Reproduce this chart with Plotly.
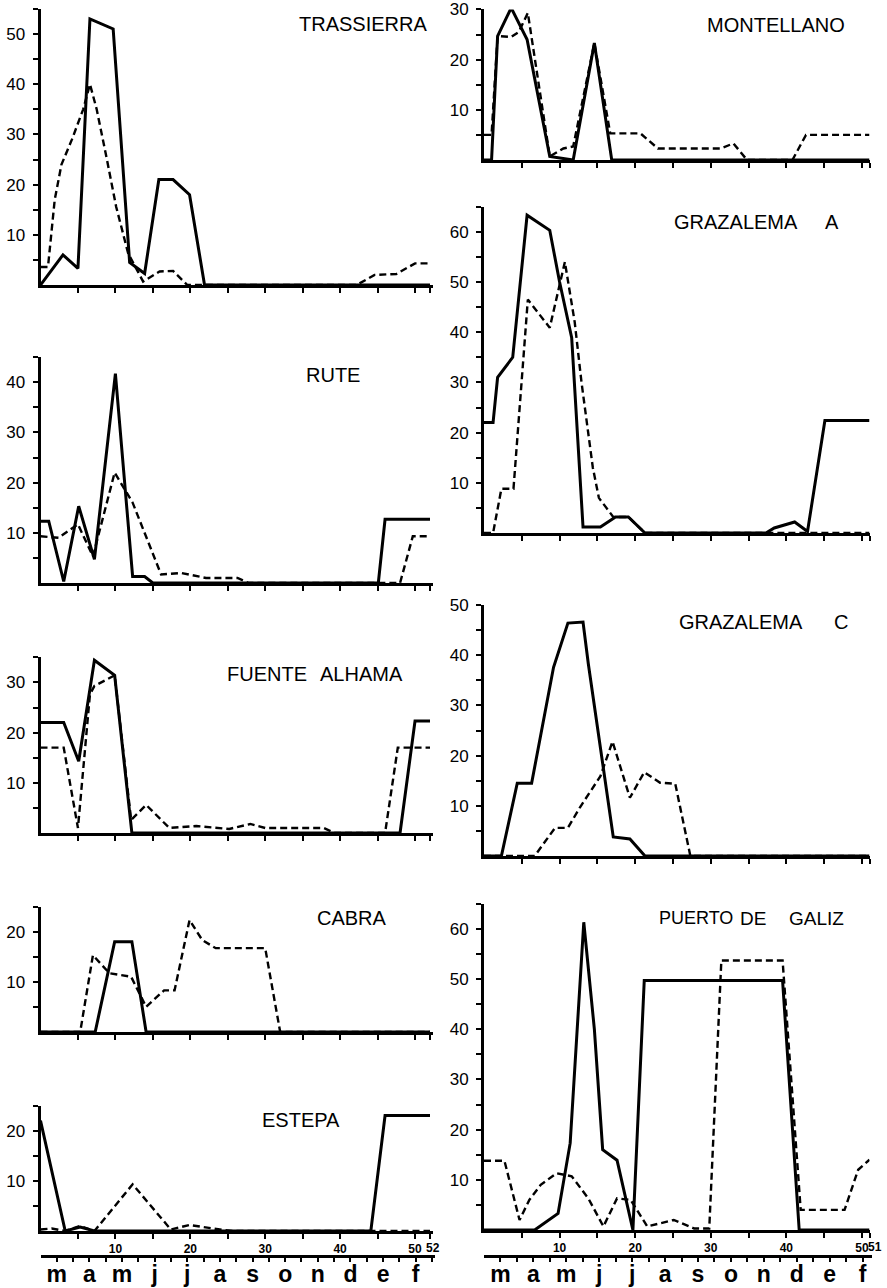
import plotly.graph_objects as go

W, H = 887, 1288

# ---------------- data (week number, value) ----------------
TRAS_W_SOLID = [0, 3, 5, 6.6, 9.7, 11.9, 13.9, 15.8, 17.7, 19.9, 21.9, 52]
TRAS_SOLID = [0, 6, 3.3, 53, 51, 4.5, 2.3, 21, 21, 18, 0, 0]
TRAS_W_DASH = [0, 1, 1.9, 2.8, 4.2, 5.7, 6.6, 7.5, 8.8, 10.1, 11.7, 13.7, 15.9, 17.7, 19.6, 42.2, 44.6, 47.5, 50, 52]
TRAS_DASH = [3.6, 3.6, 17, 24, 29, 35, 40, 35, 25.5, 15.6, 6.3, 0.7, 2.7, 2.8, 0, 0, 2, 2.2, 4.3, 4.3]

RUTE_W_SOLID = [0, 1.1, 3.1, 5.1, 7.2, 10, 12.3, 13.9, 15, 45.1, 46, 52]
RUTE_SOLID = [12.3, 12.3, 0.3, 15.3, 4.7, 41.7, 1.3, 1.3, 0, 0, 12.7, 12.7]
RUTE_W_DASH = [0, 2.4, 5, 7, 9.9, 12.3, 16.1, 18.8, 22.1, 26.3, 27.8, 48, 49.7, 52]
RUTE_DASH = [9.3, 9, 11.7, 5.3, 22, 16, 1.7, 2, 1, 1, 0, 0, 9.3, 9.3]

FA_W_SOLID = [0, 3.1, 5.1, 7.2, 9.9, 12.2, 48, 50, 52]
FA_SOLID = [22, 22, 14.3, 34.4, 31.4, 0, 0, 22.3, 22.3]
FA_W_DASH = [0, 3.1, 5, 6.6, 7.2, 9.9, 12.1, 14.1, 17.2, 20.8, 25.2, 28, 30, 37.8, 39.3, 46, 47.7, 52]
FA_DASH = [17, 17, 1, 27.6, 29.3, 31.4, 2.6, 5.6, 1, 1.4, 0.8, 1.8, 1, 1, 0, 0, 17, 17]

CAB_W_SOLID = [0, 7.3, 9.9, 12.2, 14.1, 52]
CAB_SOLID = [0, 0, 18, 18, 0, 0]
CAB_W_DASH = [0, 5.3, 7, 9.2, 12.1, 14.1, 16.5, 17.9, 19.9, 21.6, 23.4, 30, 32, 52]
CAB_DASH = [0, 0, 15.3, 11.7, 11, 5, 8.3, 8.3, 22.3, 18.3, 16.7, 16.7, 0, 0]

EST_W_SOLID = [0, 3.3, 5.3, 7.2, 44.1, 46, 52]
EST_SOLID = [22, 0, 0.8, 0, 0, 23, 23]
EST_W_DASH = [0, 1.5, 3.3, 5.3, 7.2, 12.3, 17.4, 19.9, 23, 25.6, 52]
EST_DASH = [0.3, 0.5, 0, 1, 0, 9.3, 0.3, 1.2, 0.5, 0, 0]

MON_W_SOLID = [0, 1, 1.8, 3.6, 5.7, 8.7, 11.8, 14.6, 16.9, 51]
MON_SOLID = [0, 0, 24.7, 30.3, 24, 0.7, 0, 23.3, 0, 0]
MON_W_DASH = [0, 1, 1.8, 3.6, 4.6, 5.8, 8.7, 10.5, 11.8, 14.6, 16.7, 20.7, 23, 31.3, 33, 34.8, 40.8, 42.6, 51]
MON_DASH = [5, 5, 24.7, 24.5, 25.5, 29.3, 0.7, 2.3, 2.7, 23.3, 5.3, 5.3, 2.3, 2.3, 3.3, 0, 0, 5, 5]

GA_W_SOLID = [0, 1.2, 1.8, 3.8, 5.7, 8.7, 10, 11.6, 13.1, 15.4, 17.4, 19.1, 21.3, 37.3, 38.4, 41.1, 42.8, 45.1, 51]
GA_SOLID = [22, 22, 31, 35, 63.3, 60.3, 50, 38.9, 1.2, 1.2, 3.2, 3.2, 0, 0, 1, 2.2, 0.3, 22.4, 22.4]
GA_W_DASH = [0, 1.2, 2.3, 3.9, 5.8, 8.7, 10.7, 12, 12.9, 13.6, 14.4, 15.2, 17.1, 19.1, 21.3, 51]
GA_DASH = [0, 0, 8.8, 8.8, 46.5, 40.9, 54, 42, 30, 22, 13, 7, 3.2, 3.2, 0, 0]

GC_W_SOLID = [0, 2.3, 4.4, 6.3, 9.2, 11.1, 13.1, 13.8, 17.1, 19.3, 21.3, 51]
GC_SOLID = [0, 0, 14.5, 14.5, 37.6, 46.4, 46.6, 38.3, 3.8, 3.4, 0, 0]
GC_W_DASH = [0, 6.7, 9.4, 11.1, 12.7, 15.4, 17, 19.3, 21.2, 23.3, 25.3, 27.3, 51]
GC_DASH = [0, 0, 5.6, 5.6, 9.7, 15.9, 22.8, 11.6, 16.7, 14.6, 14.4, 0, 0]

PG_W_SOLID = [0, 6.7, 9.8, 11.4, 13.2, 14.6, 15.7, 17.6, 19.7, 21.2, 39.5, 41.7, 51]
PG_SOLID = [0, 0, 3.3, 17.3, 61.3, 40, 16, 13.9, 0, 49.7, 49.7, 0, 0]
PG_W_DASH = [0, 2.7, 4.7, 6, 7.5, 9.6, 11.6, 13, 13.8, 15.8, 17.6, 19.4, 21.6, 25.1, 27.8, 29.8, 31.4, 39.5, 41.9, 47.7, 49.5, 51]
PG_DASH = [13.8, 13.8, 2, 6, 9, 11.3, 10.7, 8, 6.3, 0.7, 6.3, 6, 0.7, 2, 0.3, 0.3, 53.7, 53.7, 4, 4, 12, 14]

MONTHS = ["m", "a", "m", "j", "j", "a", "s", "o", "n", "d", "e", "f"]

# panel: (title words (text, left px, font size), title centre px, column, bottom px, ymax, series..., bottom row?)
PANELS = [
    ([("TRASSIERRA", 297, 20)], 24, "L", 285, 55, TRAS_W_SOLID, TRAS_SOLID, TRAS_W_DASH, TRAS_DASH, False),
    ([("RUTE", 304, 20)], 375, "L", 583, 45, RUTE_W_SOLID, RUTE_SOLID, RUTE_W_DASH, RUTE_DASH, False),
    ([("FUENTE", 225, 20), ("ALHAMA", 318, 20)], 674, "L", 833, 35, FA_W_SOLID, FA_SOLID, FA_W_DASH, FA_DASH, False),
    ([("CABRA", 315, 20)], 918, "L", 1032, 25, CAB_W_SOLID, CAB_SOLID, CAB_W_DASH, CAB_DASH, False),
    ([("ESTEPA", 260, 20)], 1120, "L", 1231, 25, EST_W_SOLID, EST_SOLID, EST_W_DASH, EST_DASH, True),
    ([("MONTELLANO", 705, 20)], 25, "R", 160, 30, MON_W_SOLID, MON_SOLID, MON_W_DASH, MON_DASH, False),
    ([("GRAZALEMA", 672, 20), ("A", 823, 20)], 222, "R", 533, 65, GA_W_SOLID, GA_SOLID, GA_W_DASH, GA_DASH, False),
    ([("GRAZALEMA", 677, 20), ("C", 832, 20)], 622, "R", 856, 50, GC_W_SOLID, GC_SOLID, GC_W_DASH, GC_DASH, False),
    ([("PUERTO", 657, 18), ("DE", 738, 19), ("GALIZ", 787, 19)], 918, "R", 1230, 65, PG_W_SOLID, PG_SOLID, PG_W_DASH, PG_DASH, True),
]

COLS = {"L": (40.5, 433.0, 52.4, 52), "R": (484.0, 869.5, 51.0, 51)}
PX_PER_UNIT = 5.02

FONT = "Liberation Sans, Arial, sans-serif"


def fx(px):
    return px / W


def fy(py):
    return 1 - py / H


fig = go.Figure()
layout = {}
annotations = []

for i, (words, ty, col, bottom, ymax, xs, ys, xd, yd, is_bottom) in enumerate(PANELS, start=1):
    x0, x1, xr, xend = COLS[col]
    top = bottom - ymax * PX_PER_UNIT
    xa = "x" if i == 1 else f"x{i}"
    ya = "y" if i == 1 else f"y{i}"
    fig.add_trace(go.Scatter(x=xd, y=yd, mode="lines", xaxis=xa, yaxis=ya,
                             line=dict(color="black", width=2.4, dash="7px,4px"),
                             showlegend=False, hoverinfo="skip"))
    fig.add_trace(go.Scatter(x=xs, y=ys, mode="lines", xaxis=xa, yaxis=ya,
                             line=dict(color="black", width=3),
                             showlegend=False, hoverinfo="skip"))
    xt = list(range(5, 51, 5)) + [xend]
    if is_bottom:
        xtt = [str(v) if v % 10 == 0 else "" for v in xt]
        annotations.append(dict(text=f"<b>{xend}</b>", x=xend, y=fy(bottom + 8), xref=xa, yref="paper",
                                xanchor="center", yanchor="top", xshift=5 if col == "R" else 3,
                                showarrow=False, font=dict(family=FONT, size=12, color="black")))
    else:
        xtt = ["" for v in xt]
    yt = list(range(5, ymax + 1, 5))
    ytt = [str(v) if v % 10 == 0 else "" for v in yt]
    layout["xaxis" if i == 1 else f"xaxis{i}"] = dict(
        domain=[fx(x0), fx(x1)], range=[0, xr], anchor=ya, automargin=False,
        showline=True, linecolor="black", linewidth=3,
        ticks="outside", ticklen=5, tickwidth=2, tickcolor="black",
        tickvals=xt, ticktext=xtt, showgrid=False, zeroline=False,
        tickangle=0,
        tickfont=dict(family=FONT, size=12, color="black", weight="bold"),
        ticklabelstandoff=0,
    )
    layout["yaxis" if i == 1 else f"yaxis{i}"] = dict(
        domain=[fy(bottom), fy(top)], range=[0, ymax], anchor=xa, automargin=False,
        showline=True, linecolor="black", linewidth=3,
        ticks="outside", ticklen=5, tickwidth=2, tickcolor="black",
        tickvals=yt, ticktext=ytt, showgrid=False, zeroline=False,
        tickfont=dict(family=FONT, size=17, color="black"),
        ticklabelstandoff=4,
    )
    for word, left, fs in words:
        annotations.append(dict(text=word, x=fx(left), y=fy(ty), xref="paper", yref="paper",
                                xanchor="left", yanchor="middle", showarrow=False,
                                font=dict(family=FONT, size=fs, color="black")))

# month bars
month_centers = [(k + 0.5) * 52 / 12 for k in range(12)]
half_month_ticks = [k * 52 / 24 for k in range(25)]
for j, col in enumerate(["L", "R"], start=10):
    x0, x1, xr, xend = COLS[col]
    xa, ya = f"x{j}", f"y{j}"
    fig.add_trace(go.Scatter(x=month_centers, y=[0.4] * 12, mode="text", text=MONTHS,
                             textposition="middle center", xaxis=xa, yaxis=ya,
                             textfont=dict(family=FONT, size=23, color="black", weight="bold"),
                             showlegend=False, hoverinfo="skip", cliponaxis=False))
    layout[f"xaxis{j}"] = dict(
        domain=[fx(x0), fx(x1 + 2)], range=[0, xr], anchor=ya, side="top", automargin=False,
        showline=True, linecolor="black", linewidth=3,
        ticks="inside", ticklen=4, tickwidth=2, tickcolor="black",
        tickvals=half_month_ticks, showticklabels=False, showgrid=False, zeroline=False,
    )
    layout[f"yaxis{j}"] = dict(
        domain=[fy(1288), fy(1258)], range=[0, 1], anchor=xa, automargin=False,
        visible=False, showgrid=False, zeroline=False,
    )

fig.update_layout(**layout)
fig.update_layout(
    width=W, height=H, autosize=False,
    margin=dict(l=0, r=0, t=0, b=0, pad=0, autoexpand=False),
    paper_bgcolor="white", plot_bgcolor="white",
    annotations=annotations,
    showlegend=False,
)

fig.write_html("out.html", config={"displayModeBar": False},
               post_script="document.body.style.margin='0';document.body.style.overflow='hidden';")
